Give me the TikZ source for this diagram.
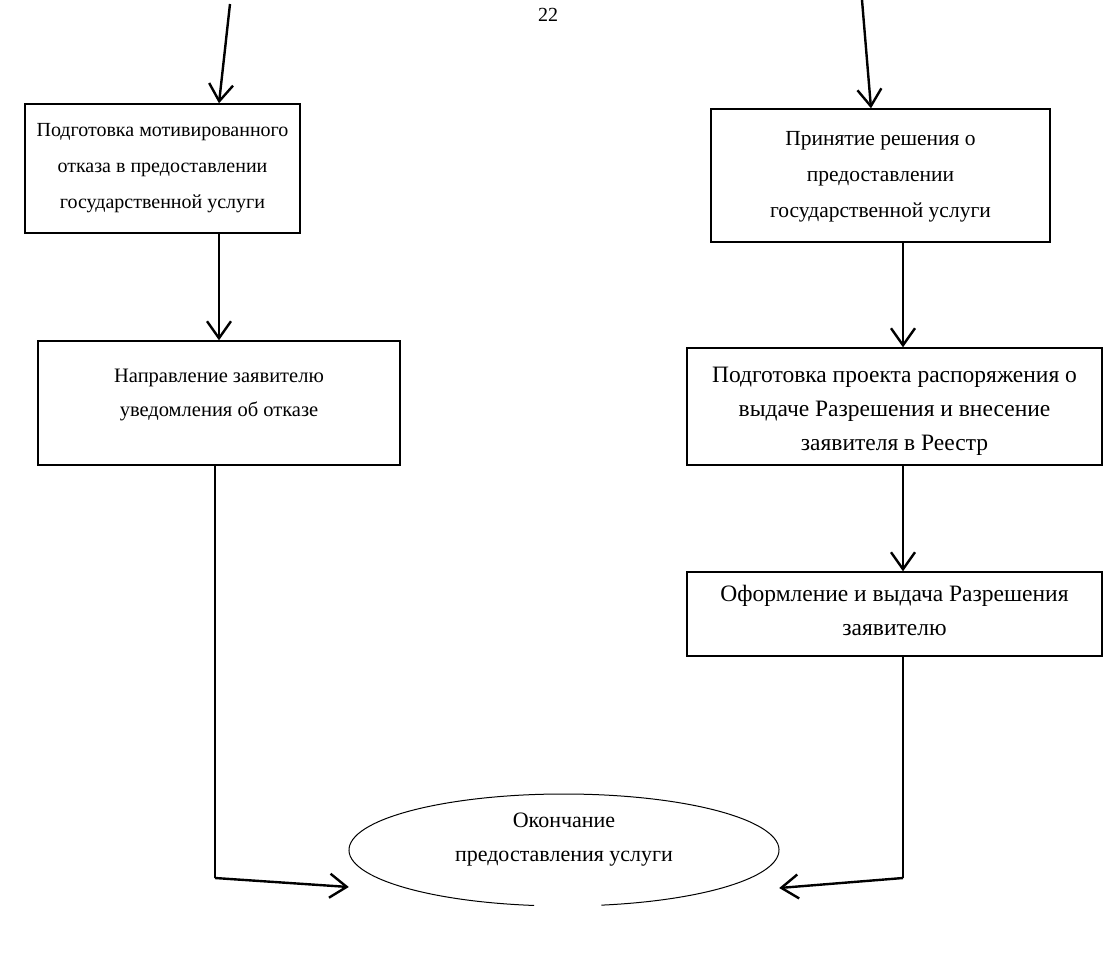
\documentclass[tikz,border=0pt]{standalone}
\usepackage{fontspec}
\setmainfont{Liberation Serif}
\usetikzlibrary{arrows.meta,shapes.geometric}
\begin{document}
\begin{tikzpicture}[x=1pt,y=-1pt,
  box/.style={draw,line width=1.4pt,inner sep=0pt},
  txt/.style={align=center,inner sep=0pt},
  fA/.style={font=\fontsize{20}{36}\selectfont},
  fB/.style={font=\fontsize{21.5}{36}\selectfont},
  fC/.style={font=\fontsize{20.5}{34}\selectfont},
  fD/.style={font=\fontsize{23.5}{34}\selectfont},
  fF/.style={font=\fontsize{22}{34}\selectfont},
  conn/.style={line width=2pt},
  arr/.style={line width=2.4pt,-{Straight Barb[length=17pt,width=24pt,line width=2.4pt]}}]
\useasboundingbox (0,0) rectangle (1104,964);
\node[txt,font=\fontsize{20}{22}\selectfont] (pg) at (548,15) {22};
% boxes
\node[box,minimum width=275,minimum height=129] (A) at (162.5,168.5) {};
\node[txt,fA] (At) at (162.5,168) {Подготовка мотивированного\\отказа в предоставлении\\государственной услуги};
\node[box,minimum width=339,minimum height=133] (B) at (880.5,175.5) {};
\node[txt,fB] (Bt) at (880.5,177) {Принятие решения о\\предоставлении\\государственной услуги};
\node[box,minimum width=362,minimum height=124] (C) at (219,403) {};
\node[txt,fC] (Ct) at (219,395) {Направление заявителю\\уведомления об отказе};
\node[box,minimum width=415,minimum height=117] (D) at (894.5,406.5) {};
\node[txt,fD] (Dt) at (894.5,411) {Подготовка проекта распоряжения о\\выдаче Разрешения и внесение\\заявителя в Реестр};
\node[box,minimum width=415,minimum height=84] (E) at (894.5,614) {};
\node[txt,fD] (Et) at (894.5,610) {Оформление и выдача Разрешения\\заявителю};
% ellipse with a small gap at the bottom, as in the scan
\node[ellipse,minimum width=430,minimum height=112,inner sep=0pt] (F) at (564,850) {};
\node[txt,fF] (Ft) at (564,840) {Окончание\\предоставления услуги};
\draw[line width=1pt] (F.center) ++(98:215 and 56) arc[start angle=98,end angle=440,x radius=215,y radius=56];
% incoming arrows from top
\coordinate (tA) at (230,4);
\coordinate (tB) at (862,0);
\draw[arr] (tA) -- (A.north -| 219,0);
\draw[arr] (tB) -- (B.north -| 871,0);
% vertical arrows
\draw[arr] (A.south -| 219,0) -- (C.north -| 219,0);
\draw[arr] (B.south -| 903,0) -- (D.north -| 903,0);
\draw[arr] (D.south -| 903,0) -- (E.north -| 903,0);
% to ellipse
\coordinate (cl) at (215,878);
\coordinate (cr) at (903,878);
\draw[conn] (C.south -| cl) -- (cl);
\draw[arr] (cl) -- (F.west |- 0,887);
\draw[conn] (E.south -| cr) -- (cr);
\draw[arr] (cr) -- (F.east |- 0,888);
\end{tikzpicture}
\end{document}
